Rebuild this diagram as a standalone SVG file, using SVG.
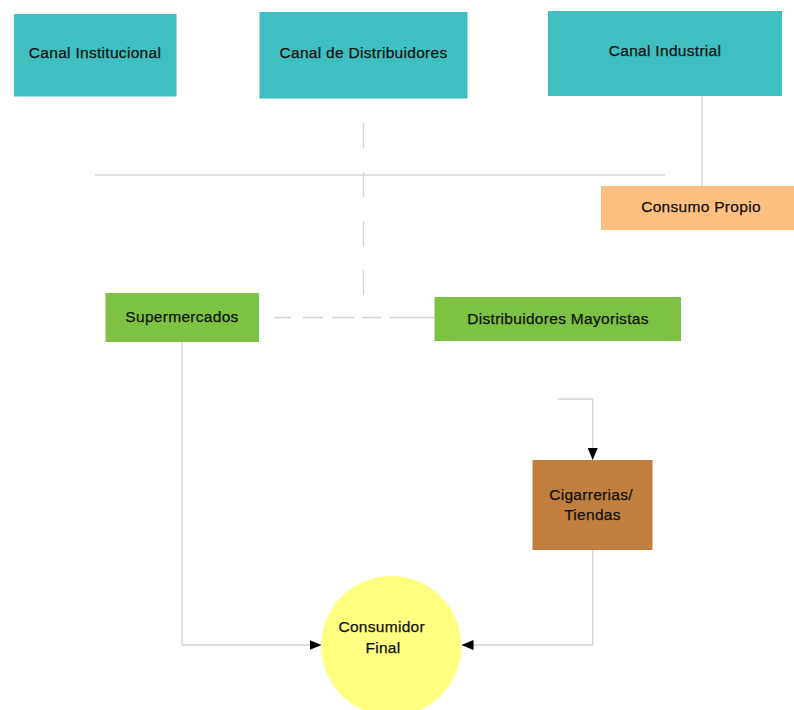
<svg xmlns="http://www.w3.org/2000/svg" width="794" height="710" viewBox="0 0 794 710">
<defs>
<style>
.t{font-family:"Liberation Sans",Arial,sans-serif;font-size:15.5px;letter-spacing:0.3px;fill:#111;stroke:#111;stroke-width:0.25;text-anchor:middle}
.teal{fill:#40BFC1}
.ln{fill:none;stroke:#d4d4d4;stroke-width:1.3}
</style>
<marker id="ah" markerWidth="12" markerHeight="10" refX="12" refY="5" orient="auto" markerUnits="userSpaceOnUse">
<path d="M0,0 L12,5 L0,10 Z" fill="#000"/>
</marker>
</defs>
<rect width="794" height="710" fill="#fff"/>
<g id="connectors">
<path class="ln" d="M95 175 H665"/>
<path class="ln" d="M702 96 V186"/>
<path class="ln" d="M363.5 295 V98" stroke-dasharray="25 24"/>
<path class="ln" d="M274.5 317.5 H291 M303 317.5 H323 M332 317.5 H354 M362 317.5 H381 M390 317.5 H434.5"/>
<path class="ln" d="M182 342 V645 H321.5" marker-end="url(#ah)"/>
<path class="ln" d="M592.7 550 V645 H461.5" marker-end="url(#ah)"/>
<path class="ln" d="M558 399 H592.7 V460" marker-end="url(#ah)"/>
</g>
<g id="canal-institucional">
<rect class="teal" x="14" y="14" width="162.5" height="82.5"/>
<text class="t" x="95" y="58">Canal Institucional</text>
</g>
<g id="canal-distribuidores">
<rect class="teal" x="259.5" y="12" width="208" height="86.5"/>
<text class="t" x="363.5" y="58">Canal de Distribuidores</text>
</g>
<g id="canal-industrial">
<rect class="teal" x="548" y="11" width="234" height="85"/>
<text class="t" x="665" y="56">Canal Industrial</text>
</g>
<g id="consumo-propio">
<rect x="601" y="186" width="193" height="44" fill="#FFBF80"/>
<text class="t" x="701" y="212">Consumo Propio</text>
</g>
<g id="supermercados">
<rect x="105.5" y="293" width="153.5" height="49" fill="#7DC242"/>
<text class="t" x="182" y="322">Supermercados</text>
</g>
<g id="distribuidores-mayoristas">
<rect x="434.5" y="297" width="246.5" height="44" fill="#7DC242"/>
<text class="t" x="558" y="324">Distribuidores Mayoristas</text>
</g>
<g id="cigarrerias">
<rect x="532.5" y="460" width="120" height="90" fill="#C07F3F"/>
<text class="t" x="591" y="500">Cigarrerias/</text>
<text class="t" x="592.5" y="520">Tiendas</text>
</g>
<g id="consumidor-final">
<circle cx="391.3" cy="646" r="70" fill="#FFFF80"/>
<text class="t" x="381.7" y="632">Consumidor</text>
<text class="t" x="383" y="653">Final</text>
</g>
</svg>
